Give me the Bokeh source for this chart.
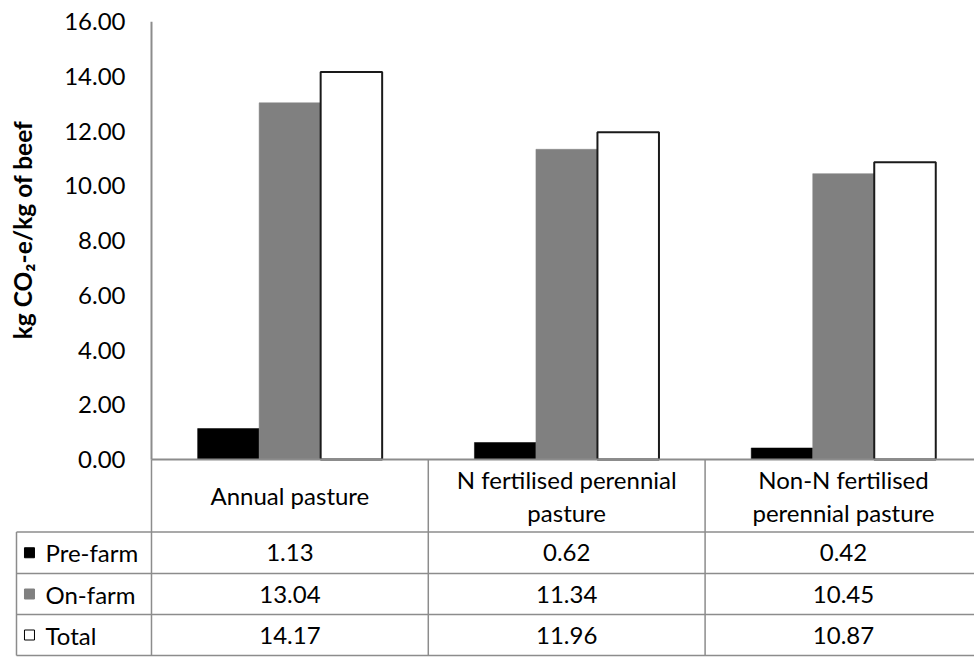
from bokeh.plotting import figure
from bokeh.models import Range1d, LinearAxis, FixedTicker, NumeralTickFormatter
from bokeh.core.properties import value
from bokeh.embed import file_html
from bokeh.resources import INLINE
import math

# ---- data ----
categories = ["Annual pasture", "N fertilised perennial pasture", "Non-N fertilised perennial pasture"]
header_labels = ["Annual pasture", "N fertilised perennial\npasture", "Non-N fertilised\nperennial pasture"]
series_names = ["Pre-farm", "On-farm", "Total"]
pre_farm = [1.13, 0.62, 0.42]
on_farm = [13.04, 11.34, 10.45]
total = [14.17, 11.96, 10.87]
y_ticks = [0, 2, 4, 6, 8, 10, 12, 14, 16]
y_label = "kg CO\u2082-e/kg of beef"

# ---- styling / layout ----
W, H = 974, 657
FONT = "Lato"
FS = "24px"
LINE = "#8c8c8c"
FILLS = ["#000000", "#808080", "#ffffff"]
OUTLINES = [None, None, "#1a1a1a"]
BAR_W = 1 / 4.5

# table geometry in "tbl" (pixel-like, top-down) units
TBL_TOP = 459
HDR_BOTTOM = 531.5
ROW_LINES = [573, 614, 655]
LEG_LEFT = -0.4877
X_END = 3.0

p = figure(width=W, height=H, output_backend="svg", toolbar_location=None,
           x_range=Range1d(-0.5455, 2.9733), y_range=Range1d(-7.24, 16.78),
           x_axis_location=None, y_axis_location=None, min_border=0,
           outline_line_color=None, background_fill_color="white",
           border_fill_color="white")
p.extra_y_ranges = {"tbl": Range1d(start=H, end=0)}
p.xgrid.grid_line_color = None
p.ygrid.grid_line_color = None

yaxis = LinearAxis(ticker=FixedTicker(ticks=y_ticks, minor_ticks=[]),
                   formatter=NumeralTickFormatter(format="0.00"),
                   fixed_location=0,
                   axis_line_color=None,
                   major_tick_line_color=None, minor_tick_line_color=None,
                   major_tick_out=0, major_tick_in=0,
                   minor_tick_out=0, minor_tick_in=0,
                   major_label_standoff=26,
                   major_label_text_font=FONT,
                   major_label_text_font_size=FS,
                   major_label_text_color="black")
p.add_layout(yaxis, "left")

# bars
n = len(categories)
for k, vals in enumerate([pre_farm, on_farm, total]):
    xs = [i + 0.5 + (k - 1) * BAR_W for i in range(n)]
    p.vbar(x=xs, top=vals, bottom=0, width=BAR_W,
           fill_color=FILLS[k],
           line_color=OUTLINES[k] if OUTLINES[k] else FILLS[k],
           line_width=2 if OUTLINES[k] else 0.5)

# axis line (y) and baseline (x)
p.segment(x0=[0], y0=[0], x1=[0], y1=[y_ticks[-1]], line_color=LINE, line_width=2)
p.segment(x0=[0], y0=[0], x1=[X_END], y1=[0], line_color=LINE, line_width=2)

# table lines
p.segment(x0=[0, 1, 2, 3], y0=[TBL_TOP] * 4, x1=[0, 1, 2, 3], y1=[ROW_LINES[-1]] * 4,
          line_color=LINE, line_width=1.5, y_range_name="tbl")
p.segment(x0=[LEG_LEFT], y0=[HDR_BOTTOM], x1=[LEG_LEFT], y1=[ROW_LINES[-1]],
          line_color=LINE, line_width=1.5, y_range_name="tbl")
hy = [HDR_BOTTOM] + ROW_LINES
p.segment(x0=[LEG_LEFT] * len(hy), y0=hy, x1=[X_END] * len(hy), y1=hy,
          line_color=LINE, line_width=1.5, y_range_name="tbl")

# header labels
p.text(x=[i + 0.5 for i in range(n)], y=[(TBL_TOP + HDR_BOTTOM) / 2] * n,
       text=header_labels, y_range_name="tbl",
       text_align="center", text_baseline="middle",
       text_font=value(FONT), text_font_size=value(FS), text_color="black",
       text_line_height=1.15)

# rows
row_tops = [HDR_BOTTOM] + ROW_LINES[:-1]
row_centers = [(a + b) / 2 for a, b in zip(row_tops, ROW_LINES)]
for k, (name, vals) in enumerate(zip(series_names, [pre_farm, on_farm, total])):
    yc = row_centers[k]
    p.scatter(x=[-0.4408], y=[yc], marker="square", size=10,
              fill_color=FILLS[k], line_color="#000000" if k == 2 else FILLS[k],
              line_width=1, y_range_name="tbl")
    p.text(x=[-0.3829], y=[yc], text=[name], y_range_name="tbl",
           text_align="left", text_baseline="middle",
           text_font=value(FONT), text_font_size=value(FS), text_color="black")
    p.text(x=[i + 0.5 for i in range(n)], y=[yc] * n,
           text=["%.2f" % v for v in vals], y_range_name="tbl",
           text_align="center", text_baseline="middle",
           text_font=value(FONT), text_font_size=value(FS), text_color="black")

# y axis title
p.text(x=[-0.4660], y=[8.39], text=[y_label], angle=math.pi / 2,
       text_align="center", text_baseline="middle",
       text_font=value(FONT), text_font_size=value("24.5px"),
       text_font_style="bold", text_color="black")

open("out.html", "w").write(file_html(p, INLINE))
